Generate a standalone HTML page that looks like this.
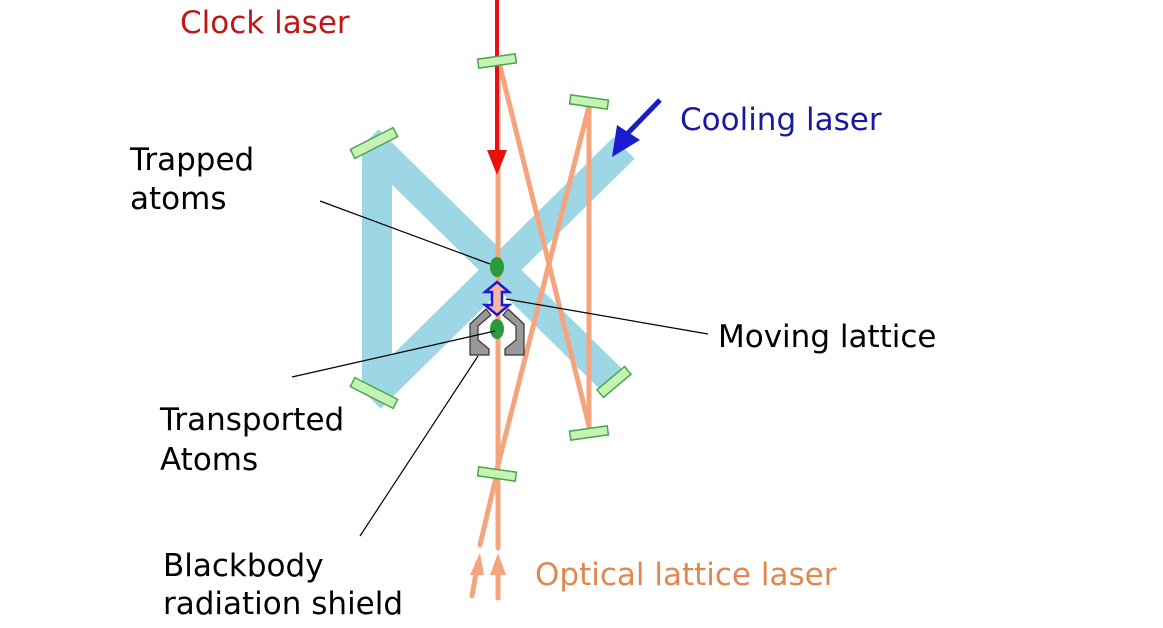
<!DOCTYPE html>
<html><head><meta charset="utf-8"><style>
html,body{margin:0;padding:0;background:#fff;}
svg{display:block;}
text{font-family:"DejaVu Sans","Liberation Sans",sans-serif;}
</style></head><body>
<svg width="1163" height="628" viewBox="0 0 1163 628" xmlns="http://www.w3.org/2000/svg">
<!-- blue cooling beams -->
<g stroke="#9dd6e4" stroke-width="30" fill="none" stroke-linecap="butt">
<line x1="377" y1="148" x2="377" y2="392"/>
<line x1="368" y1="140" x2="614" y2="382"/>
<line x1="370" y1="398" x2="624" y2="148"/>
</g>
<!-- orange lattice beams -->
<g stroke="#f5a57e" stroke-width="5" fill="none" stroke-linecap="round">
<line x1="498" y1="60" x2="498" y2="548"/>
<line x1="500" y1="66" x2="590" y2="430"/>
<line x1="589" y1="104" x2="589" y2="430"/>
<line x1="589" y1="106" x2="496" y2="473"/>
<line x1="497" y1="473" x2="480" y2="545"/>
<line x1="472" y1="596" x2="478" y2="562"/>
<line x1="498" y1="598" x2="498" y2="562"/>
</g>
<g fill="#f5a57e">
<polygon points="480,553 470,575 484,575"/>
<polygon points="498,553 490,575 506,575"/>
</g>
<!-- red clock laser -->
<line x1="497" y1="0" x2="497" y2="155" stroke="#e81010" stroke-width="4"/>
<polygon points="487,150 507,150 497,175" fill="#e81010"/>
<!-- cooling arrow -->
<line x1="660" y1="100" x2="628" y2="133" stroke="#1a1ad0" stroke-width="5"/>
<polygon points="612,157 617,125 640,140" fill="#1a1ad0"/>
<!-- mirrors -->
<g fill="#c6f3b3" stroke="#4aa84a" stroke-width="1.5">
<rect x="-19" y="-4.5" width="38" height="9" transform="translate(497,61) rotate(-8)"/>
<rect x="-19" y="-4.5" width="38" height="9" transform="translate(589,102) rotate(8)"/>
<rect x="-24" y="-5" width="48" height="10" transform="translate(374,143) rotate(-27)"/>
<rect x="-24" y="-5" width="48" height="10" transform="translate(374,393) rotate(27)"/>
<rect x="-18" y="-5" width="36" height="10" transform="translate(614,382) rotate(-40)"/>
<rect x="-19" y="-4.5" width="38" height="9" transform="translate(589,433) rotate(-8)"/>
<rect x="-19" y="-4.5" width="38" height="9" transform="translate(497,474) rotate(8)"/>
</g>
<!-- shield -->
<g fill="#999" stroke="#333" stroke-width="1.2">
<polygon points="486,309 491,315 478,326 478,340 489,349 489,355 470,355 470,324"/>
<polygon points="508,309 503,315 516,326 516,340 505,349 505,355 524,355 524,324"/>
</g>
<!-- atoms -->
<ellipse cx="497" cy="267" rx="7" ry="10" fill="#2a9a3a"/>
<ellipse cx="497" cy="329" rx="7" ry="10" fill="#2a9a3a"/>
<!-- double arrow -->
<polygon points="497,282 509,292 502,292 502,305 509,305 497,315 485,305 492,305 492,292 485,292" fill="#f5b5a0" stroke="#1a1ad0" stroke-width="2.5"/>
<!-- label leaders -->
<g stroke="#000" stroke-width="1.2">
<line x1="320" y1="201" x2="490" y2="264"/>
<line x1="506" y1="299" x2="708" y2="334"/>
<line x1="292" y1="377" x2="495" y2="331"/>
<line x1="360" y1="536" x2="478" y2="356"/>
</g>
<!-- text -->
<text x="180" y="33" font-size="31" fill="#c01818">Clock laser</text>
<text x="680" y="130" font-size="31" fill="#1a1aa0">Cooling laser</text>
<text x="130" y="170" font-size="31" fill="#000">Trapped</text>
<text x="130" y="209" font-size="31" fill="#000">atoms</text>
<text x="718" y="347" font-size="31" fill="#000">Moving lattice</text>
<text x="160" y="430" font-size="31" fill="#000">Transported</text>
<text x="160" y="470" font-size="31" fill="#000">Atoms</text>
<text x="163" y="576" font-size="31" fill="#000">Blackbody</text>
<text x="163" y="614" font-size="31" fill="#000">radiation shield</text>
<text x="535" y="585" font-size="31" fill="#e08850">Optical lattice laser</text>
</svg>
</body></html>
